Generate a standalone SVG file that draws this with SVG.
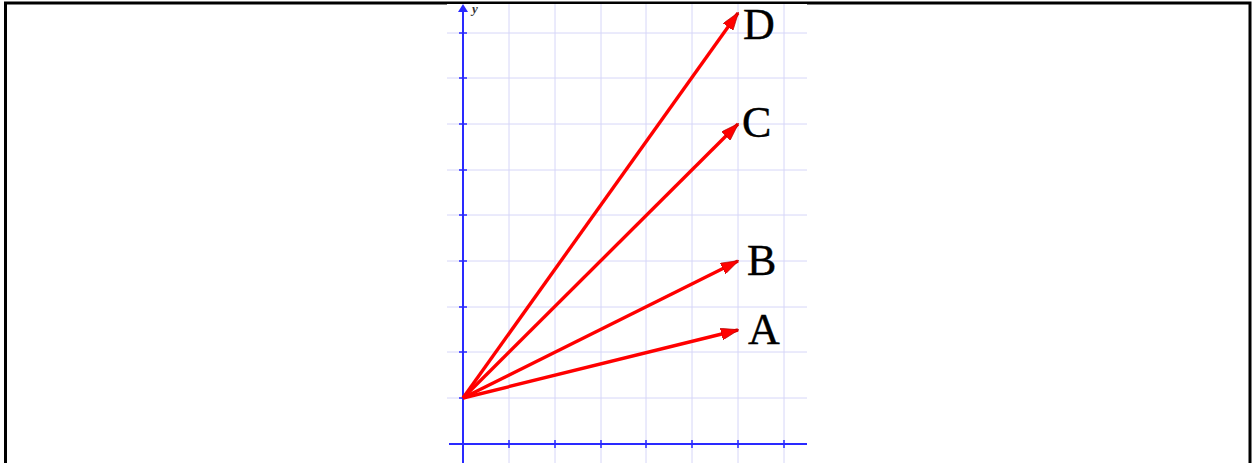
<svg xmlns="http://www.w3.org/2000/svg" width="1252" height="463" viewBox="0 0 1252 463">
<style>
.grid{stroke:#d6d6f8;stroke-width:1;fill:none}
.axis{stroke:#2a2aff;stroke-width:2;fill:none}
.tick{stroke:#2a2aff;stroke-width:1.5}
.vec{stroke:#ff0000;stroke-width:3.4;fill:none}
.lbl{font-family:"Liberation Serif",serif;font-size:44px;fill:#000;stroke:#000;stroke-width:0.4}
</style>
<defs>
<marker id="ah" viewBox="0 0 18 12" refX="17" refY="6" markerWidth="18" markerHeight="12" markerUnits="userSpaceOnUse" orient="auto">
<path d="M0,0 L18,6 L0,12 Z" fill="#ff0000" stroke="#aa0000" stroke-width="0.6"/>
</marker>
</defs>
<rect x="0" y="0" width="1252" height="463" fill="#fff"/>
<g id="frame">
<path d="M5.5,463 V3 H1250 V463" fill="none" stroke="#000" stroke-width="3"/>
</g>
<g id="plot">
<rect x="447" y="4" width="360" height="459" fill="#fff"/>
<g class="grid">
<path d="M509,4V463M555,4V463M601,4V463M646,4V463M692,4V463M738,4V463M784,4V463"/>
<path d="M447,33H807M447,78H807M447,124H807M447,170H807M447,215H807M447,261H807M447,307H807M447,352H807M447,398H807"/>
</g>
<g id="axes">
<line class="axis" x1="463" y1="463" x2="463" y2="6"/>
<path d="M458,12 L463,4 L468,12 Z" fill="#2a2aff"/>
<line class="axis" x1="449" y1="444" x2="807" y2="444"/>
<path class="tick" d="M459,33H467M459,78H467M459,124H467M459,170H467M459,215H467M459,261H467M459,307H467M459,352H467M459,398H467"/>
<path class="tick" d="M509,440V448M555,440V448M601,440V448M646,440V448M692,440V448M738,440V448M784,440V448"/>
<text x="472" y="13" font-family="Liberation Serif,serif" font-size="13" font-weight="bold" font-style="italic" fill="#333">y</text>
</g>
</g>
<g id="connectors">
<line class="vec" x1="463" y1="398" x2="738" y2="330" marker-end="url(#ah)"/>
<line class="vec" x1="463" y1="398" x2="738" y2="261" marker-end="url(#ah)"/>
<line class="vec" x1="463" y1="398" x2="738" y2="124" marker-end="url(#ah)"/>
<line class="vec" x1="463" y1="398" x2="738" y2="13" marker-end="url(#ah)"/>
</g>
<g id="node-A"><text class="lbl" x="748" y="344">A</text></g>
<g id="node-B"><text class="lbl" x="747" y="275">B</text></g>
<g id="node-C"><text class="lbl" x="742" y="137">C</text></g>
<g id="node-D"><text class="lbl" x="743" y="39">D</text></g>
</svg>
